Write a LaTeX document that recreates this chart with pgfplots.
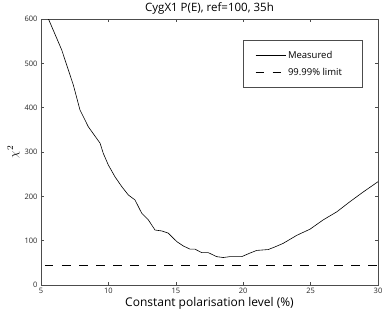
\documentclass[border=0pt]{standalone}
\usepackage{fontspec}
\setmainfont{Open Sans}
\usepackage{pgfplots}
\pgfplotsset{compat=1.18}
\begin{document}
\begin{tikzpicture}
\useasboundingbox (-41pt,-29pt) rectangle (341pt,285pt);
\begin{axis}[
  at={(0,0)}, anchor=south west,
  scale only axis, width=337pt, height=266pt,
  xmin=5, xmax=30, ymin=0, ymax=600,
  xtick={5,10,15,20,25,30}, ytick={0,100,200,300,400,500,600},
  tick align=inside, major tick length=3pt,
  tick style={black!70, line width=0.4pt},
  axis line style={black!70, line width=0.5pt},
  /pgf/number format/assume math mode=true,
  ticklabel style={font=\fontsize{7.5}{8}\selectfont, text=black!85},
  title={CygX1 P(E), ref=100, 35h},
  title style={font=\fontsize{11.5}{13}\selectfont, yshift=-5pt},
  xlabel={Constant polarisation level (\%)},
  xlabel style={font=\fontsize{12}{13}\selectfont, yshift=4pt},
  ylabel={$\chi^2$},
  ylabel style={font=\fontsize{13}{14}\selectfont, yshift=-2pt},
  legend style={at={(0.6,0.921)}, anchor=north west, draw=black!70, line width=0.4pt,
    font=\fontsize{9.5}{11}\selectfont, inner xsep=12pt, inner ysep=9pt, row sep=4pt},
  legend cell align=left,
  legend image code/.code={\draw[#1, dash phase=0pt] (0pt,0pt) -- (30pt,0pt);},
]
\addplot[black, line width=0.6pt] coordinates {
(5.54,601) (6.54,530) (7.40,451) (7.89,395) (8.51,357) (9.38,320) (9.62,297)
(9.99,271) (10.49,244) (10.99,222) (11.48,203) (11.97,192) (12.47,162) (12.96,147)
(13.46,124) (13.95,122) (14.44,117) (15.07,98) (15.56,88) (16.05,81) (16.42,81)
(16.92,73) (17.41,73) (18.03,64) (18.52,62) (19.02,64) (19.89,64) (20.50,72)
(21.00,78) (21.86,80) (22.36,86) (22.97,94) (23.97,112) (24.96,126) (25.94,147)
(26.94,165) (27.92,188) (28.91,210) (30.0,233)
};
\addlegendentry{Measured\hspace*{16pt}}
\addplot[black, line width=0.6pt, dash pattern=on 8.5pt off 8.5pt, dash phase=13pt] coordinates {(5,45) (30,45)};
\addlegendentry{99.99\% limit}
\end{axis}
\end{tikzpicture}
\end{document}
